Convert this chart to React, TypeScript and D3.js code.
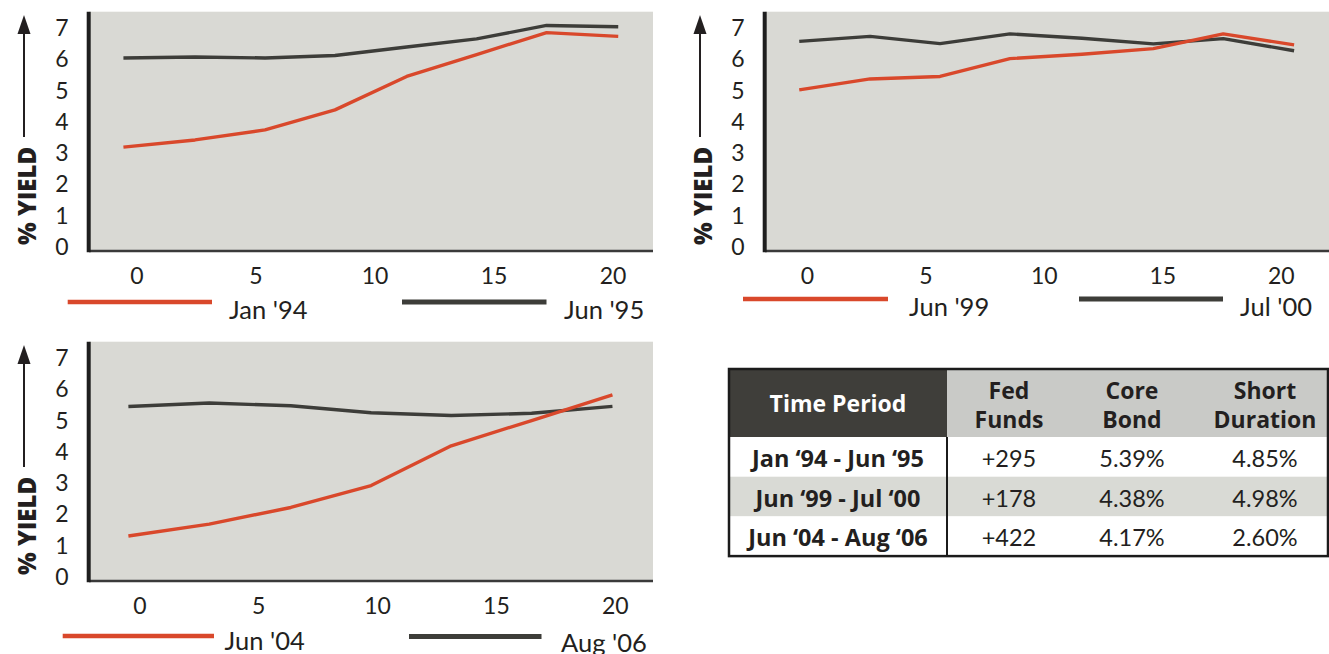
import React from 'react';
import * as d3 from 'd3';

// ---------- data ----------
const xTicks = [0, 5, 10, 15, 20];
const yTicks = [0, 1, 2, 3, 4, 5, 6, 7];

const maturities1 = [-0.57, 2.44, 5.38, 8.32, 11.33, 14.27, 17.21, 20.22];
const jan94 = [3.16, 3.39, 3.71, 4.35, 5.42, 6.12, 6.82, 6.7];
const jun95 = [6.01, 6.04, 6.01, 6.09, 6.36, 6.62, 7.05, 7.01];

const maturities2 = [-0.34, 2.65, 5.6, 8.55, 11.59, 14.6, 17.55, 20.54];
const jun99 = [4.99, 5.34, 5.42, 5.99, 6.13, 6.31, 6.78, 6.43];
const jul00 = [6.54, 6.7, 6.47, 6.78, 6.64, 6.46, 6.63, 6.24];

const maturities3 = [-0.48, 2.92, 6.35, 9.73, 13.1, 16.48, 19.88];
const jun04 = [1.28, 1.66, 2.19, 2.89, 4.16, 4.97, 5.79];
const aug06 = [5.42, 5.53, 5.44, 5.22, 5.13, 5.2, 5.42];

const seriesNames1 = ["Jan '94", "Jun '95"];
const seriesNames2 = ["Jun '99", "Jul '00"];
const seriesNames3 = ["Jun '04", "Aug '06"];

const tableHeaders = ['Time Period', 'Fed|Funds', 'Core|Bond', 'Short|Duration'];
const periods = ['Jan ‘94 - Jun ‘95', 'Jun ‘99 - Jul ‘00', 'Jun ‘04 - Aug ‘06'];
const fedFunds = ['+295', '+178', '+422'];
const coreBond = ['5.39%', '4.38%', '4.17%'];
const shortDuration = ['4.85%', '4.98%', '2.60%'];

// ---------- styles ----------
const RED = '#d9482b';
const DARK = '#3d3d39';
const PLOT_BG = '#d9d9d4';
const TEXT = '#231f20';
const FONT = 'Lato, "Open Sans", sans-serif';
const TFONT = '"Open Sans", Lato, sans-serif';

const panels = [
  {
    ox: 0, oy: 0, plotRight: 653, xRange: [137, 613],
    xs: maturities1, red: jan94, black: jun95, names: seriesNames1,
    legend: { r: [67.7, 212, 302], b: [402, 546.5, 302], t1: [229, 309], t2: [564, 309] },
  },
  {
    ox: 676, oy: 0, plotRight: 653, xRange: [131.3, 605.3],
    xs: maturities2, red: jun99, black: jul00, names: seriesNames2,
    legend: { r: [67, 212, 299], b: [403, 547, 299], t1: [233, 306], t2: [564, 306] },
  },
  {
    ox: 0, oy: 330, plotRight: 653, xRange: [139.8, 615.3],
    xs: maturities3, red: jun04, black: aug06, names: seriesNames3,
    legend: { r: [62.7, 214, 306], b: [409, 541.5, 306.5], t1: [224.6, 310], t2: [561, 312] },
  },
];

const y = d3.scaleLinear().domain([0, 7]).range([246, 27]);

function Panel({ p }: { p: any }) {
  const x = d3.scaleLinear().domain([0, 20]).range(p.xRange);
  const line = d3
    .line<[number, number]>()
    .x((d) => x(d[0]))
    .y((d) => y(d[1]));
  const redPts = p.xs.map((v: number, i: number) => [v, p.red[i]] as [number, number]);
  const blackPts = p.xs.map((v: number, i: number) => [v, p.black[i]] as [number, number]);
  const L = p.legend;
  return (
    <g transform={`translate(${p.ox},${p.oy})`}>
      <rect x={89} y={11.7} width={p.plotRight - 89} height={239} fill={PLOT_BG} />
      <line x1={89} x2={p.plotRight} y1={251} y2={251} stroke="#3a3a3a" strokeWidth={2.3} />
      <line x1={88.7} x2={88.7} y1={11.7} y2={252.3} stroke="#1e1e1e" strokeWidth={4} />
      <path d={line(blackPts) || ''} fill="none" stroke={DARK} strokeWidth={3.4} strokeLinejoin="round" />
      <path d={line(redPts) || ''} fill="none" stroke={RED} strokeWidth={3.4} strokeLinejoin="round" />
      {yTicks.map((t) => (
        <text key={t} x={62} y={y(t)} textAnchor="middle" dominantBaseline="central"
          fontFamily={FONT} fontSize={23} fill={TEXT}>{t}</text>
      ))}
      {xTicks.map((t) => (
        <text key={t} x={x(t)} y={275} textAnchor="middle" dominantBaseline="central"
          fontFamily={FONT} fontSize={23} fill={TEXT}>{t}</text>
      ))}
      {/* y axis title with arrow */}
      <line x1={24} x2={24} y1={32} y2={137} stroke={TEXT} strokeWidth={2} />
      <polygon points="24,15 17.5,34 30.5,34" fill={TEXT} />
      <text transform="translate(26,196) rotate(-90)" textAnchor="middle" dominantBaseline="central"
        fontFamily={TFONT} fontWeight={800} fontSize={24} fill={TEXT}>% YIELD</text>
      {/* legend */}
      <line x1={L.r[0]} x2={L.r[1]} y1={L.r[2]} y2={L.r[2]} stroke={RED} strokeWidth={4.6} />
      <line x1={L.b[0]} x2={L.b[1]} y1={L.b[2]} y2={L.b[2]} stroke={DARK} strokeWidth={5} />
      <text x={L.t1[0]} y={L.t1[1]} dominantBaseline="central" fontFamily={FONT} fontSize={25.5} fill={TEXT}>{p.names[0]}</text>
      <text x={L.t2[0]} y={L.t2[1]} dominantBaseline="central" fontFamily={FONT} fontSize={25.5} fill={TEXT}>{p.names[1]}</text>
    </g>
  );
}

function Table() {
  const left = 729, right = 1328, top = 369, headH = 68, rowH = 39.7;
  const col1R = 947;
  const centers = [838, 1009, 1132, 1265];
  const rows = periods.map((pd, i) => [pd, fedFunds[i], coreBond[i], shortDuration[i]]);
  const bottom = top + headH + rowH * rows.length;
  return (
    <g>
      <rect x={left} y={top} width={col1R - left} height={headH} fill="#3f3e3a" />
      <rect x={col1R} y={top} width={right - col1R} height={headH} fill="#c9cac7" />
      {rows.map((_, i) => (
        <rect key={i} x={left} y={top + headH + i * rowH} width={right - left} height={rowH}
          fill={i === 1 ? '#d9dad5' : '#ffffff'} />
      ))}
      {tableHeaders.map((h, j) => {
        const parts = h.split('|');
        const fill = j === 0 ? '#ffffff' : TEXT;
        if (parts.length === 1)
          return (
            <text key={j} x={centers[j]} y={top + headH / 2} textAnchor="middle" dominantBaseline="central"
              fontFamily={TFONT} fontWeight={700} fontSize={23} fill={fill}>{parts[0]}</text>
          );
        return (
          <g key={j}>
            <text x={centers[j]} y={top + 21} textAnchor="middle" dominantBaseline="central"
              fontFamily={TFONT} fontWeight={700} fontSize={23} fill={fill}>{parts[0]}</text>
            <text x={centers[j]} y={top + 50} textAnchor="middle" dominantBaseline="central"
              fontFamily={TFONT} fontWeight={700} fontSize={23} fill={fill}>{parts[1]}</text>
          </g>
        );
      })}
      {rows.map((r, i) =>
        r.map((c, j) => (
          <text key={`${i}-${j}`} x={centers[j]} y={top + headH + i * rowH + rowH / 2 + 1}
            textAnchor="middle" dominantBaseline="central" fontFamily={j === 0 ? TFONT : FONT}
            fontWeight={j === 0 ? 700 : 400} fontSize={23.5} fill={TEXT}>{c}</text>
        ))
      )}
      <line x1={col1R} x2={col1R} y1={top + headH} y2={bottom} stroke="#1b1b1b" strokeWidth={2} />
      <rect x={left} y={top} width={right - left} height={bottom - top} fill="none" stroke="#1b1b1b" strokeWidth={2.5} />
    </g>
  );
}

export default function App() {
  return (
    <svg width={1329} height={654} style={{ position: 'absolute', left: 0, top: 0, background: '#fff' }}>
      {panels.map((p, i) => (
        <Panel key={i} p={p} />
      ))}
      <Table />
    </svg>
  );
}
